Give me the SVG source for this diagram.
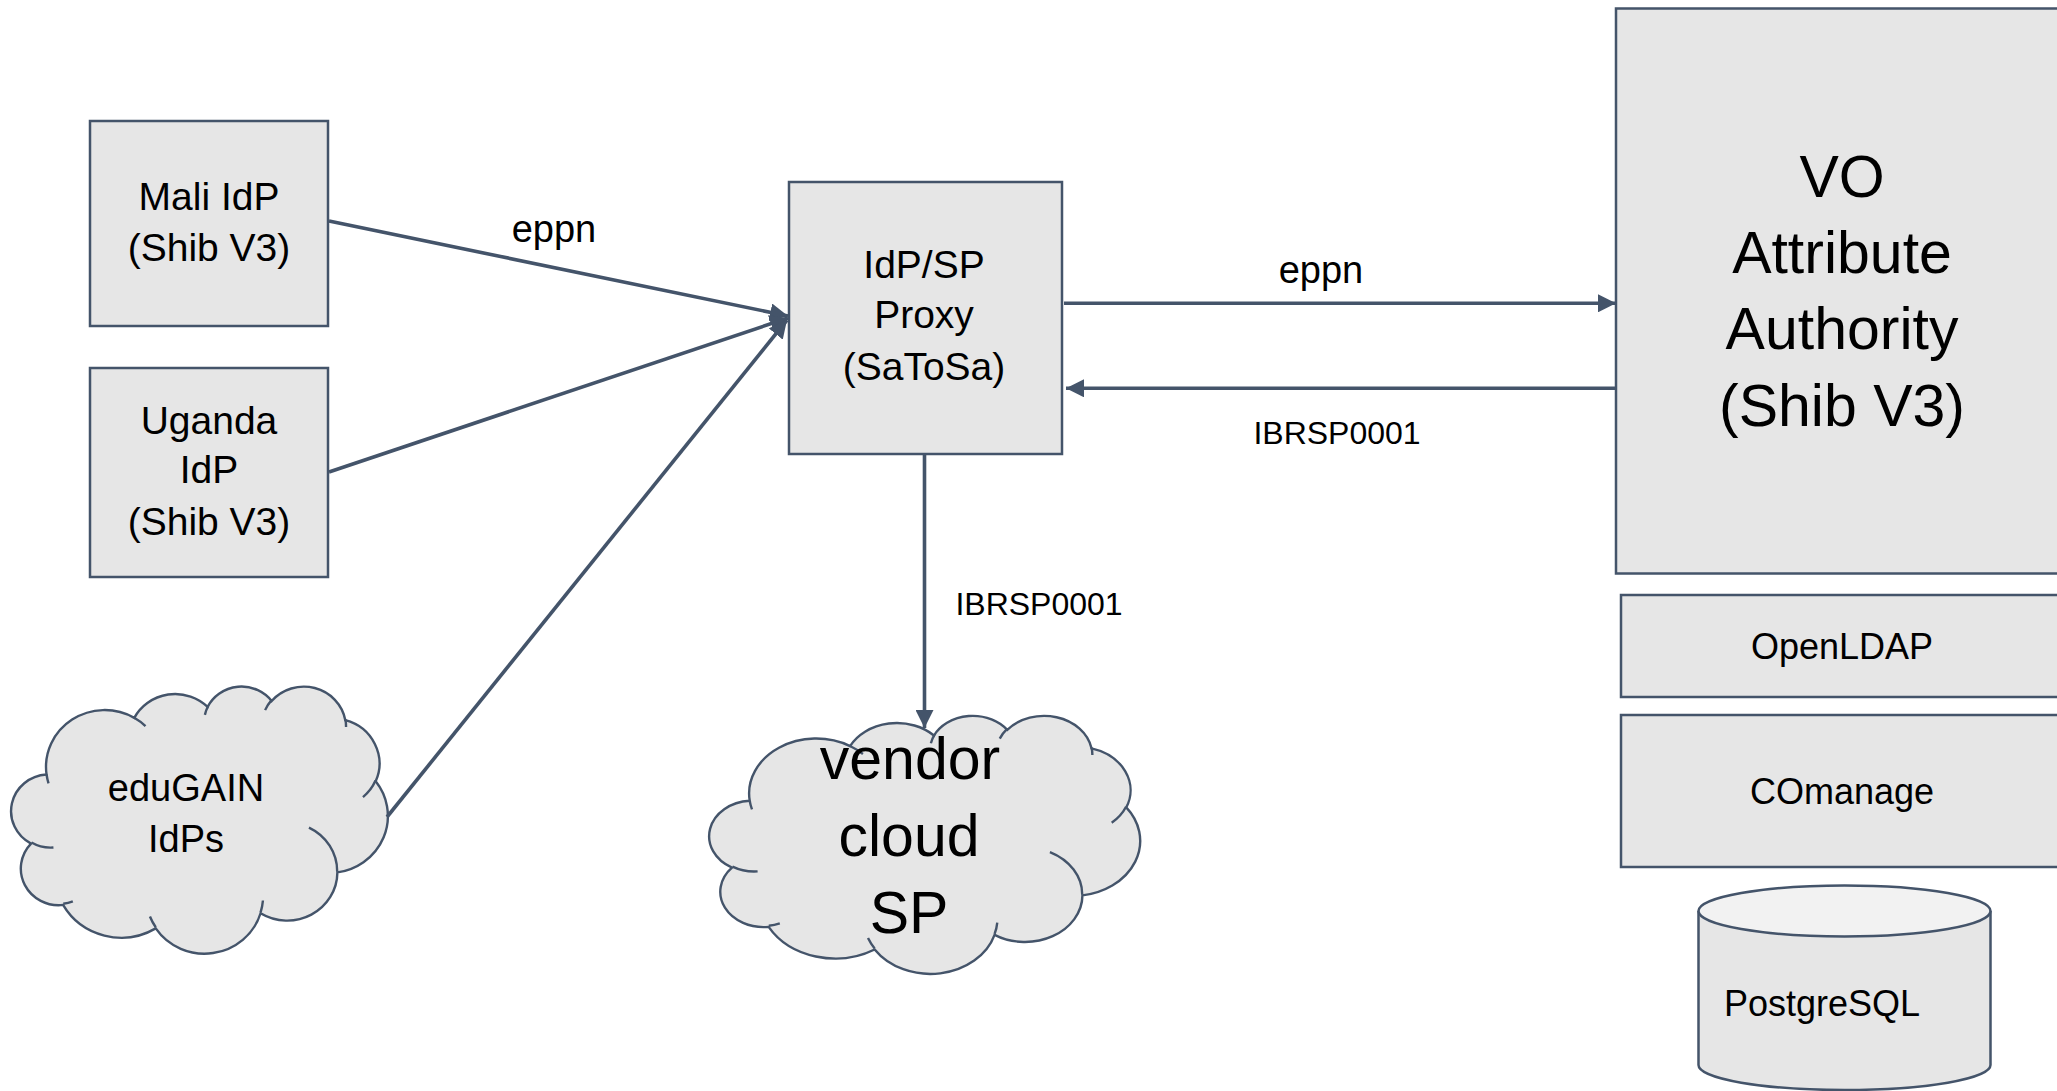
<svg xmlns="http://www.w3.org/2000/svg" width="2057" height="1091" viewBox="0 0 2057 1091">
<defs>
<style>
.box{fill:#e6e6e6;stroke:#44546a;stroke-width:2.5}
.cl{fill:#e6e6e6;stroke:#44546a;stroke-width:2.4;vector-effect:non-scaling-stroke}
.cli{fill:none;stroke:#44546a;stroke-width:2.4;vector-effect:non-scaling-stroke}
.t{font-family:"Liberation Sans",Arial,sans-serif;fill:#000;text-anchor:middle}
.conn{stroke:#44546a;stroke-width:3.6;fill:none}
</style>
<marker id="ah" markerUnits="userSpaceOnUse" markerWidth="18" markerHeight="18" viewBox="0 0 16 16" refX="16" refY="8" orient="auto">
<path d="M0,0 L16,8 L0,16 Z" fill="#44546a"/>
</marker>
<g id="cloudshape">
<path class="cl" d="M3900 14370 A6753 9190 0 0 1 14005 5202 A5333 7267 0 0 1 22455 3433 A4365 5945 0 0 1 29832 2482 A4857 6595 0 0 1 38317 5577 A5333 7273 0 0 1 41818 15460 A6775 9220 0 0 1 37404 30204 A5785 7867 0 0 1 28555 36814 A6752 9215 0 0 1 16480 39266 A7720 10543 0 0 1 5804 35470 A4360 5918 0 0 1 2112 25549 A4345 5945 0 0 1 3900 14370 Z"/>
<path class="cli" d="M4693 26177 A4345 5945 0 0 1 2160 25380 M6928 34899 A4360 5918 0 0 1 5820 35281 M16478 39090 A6752 9215 0 0 1 15810 37349 M28827 34751 A6752 9215 0 0 1 28560 36660 M34129 22954 A5785 7867 0 0 1 37380 30090 M41798 15354 A5333 7273 0 0 1 40350 18030 M38324 5426 A4857 6595 0 0 1 38401 6690 M29078 3952 A4857 6595 0 0 1 29820 2340 M22141 4720 A4365 5945 0 0 1 22500 3331 M14000 5192 A6753 9190 0 0 1 15299 6540 M4127 15789 A6753 9190 0 0 1 3900 14371"/>
</g>
</defs>
<rect width="2057" height="1091" fill="#fff"/>

<g id="mali">
<rect class="box" x="90" y="121" width="238" height="205"/>
<text class="t" x="209" y="210" font-size="39">Mali IdP</text>
<text class="t" x="209" y="261" font-size="39">(Shib V3)</text>
</g>

<g id="uganda">
<rect class="box" x="90" y="368" width="238" height="209"/>
<text class="t" x="209" y="434" font-size="39">Uganda</text>
<text class="t" x="209" y="483" font-size="39">IdP</text>
<text class="t" x="209" y="535" font-size="39">(Shib V3)</text>
</g>

<g id="edugain">
<use href="#cloudshape" transform="translate(12.7,685.7) scale(0.0086806,0.0061806)"/>
<text class="t" x="186" y="801" font-size="38">eduGAIN</text>
<text class="t" x="186" y="852" font-size="38">IdPs</text>
</g>

<g id="proxy">
<rect class="box" x="789" y="182" width="273" height="272"/>
<text class="t" x="924" y="278" font-size="39">IdP/SP</text>
<text class="t" x="924" y="328" font-size="39">Proxy</text>
<text class="t" x="924" y="380" font-size="39">(SaToSa)</text>
</g>

<g id="vendor">
<use href="#cloudshape" transform="translate(711,715) scale(0.0099306,0.0059722)"/>
<text class="t" x="910" y="779" font-size="59">vendor</text>
<text class="t" x="909" y="856" font-size="59">cloud</text>
<text class="t" x="909" y="933" font-size="59">SP</text>
</g>

<g id="vo">
<rect class="box" x="1616" y="8.5" width="460" height="565"/>
<text class="t" x="1842" y="197" font-size="59">VO</text>
<text class="t" x="1842" y="272.5" font-size="59">Attribute</text>
<text class="t" x="1842" y="349" font-size="59">Authority</text>
<text class="t" x="1842" y="425.5" font-size="59">(Shib V3)</text>
</g>

<g id="openldap">
<rect class="box" x="1621" y="595" width="455" height="102"/>
<text class="t" x="1842" y="659" font-size="36">OpenLDAP</text>
</g>

<g id="comanage">
<rect class="box" x="1621" y="715" width="455" height="152"/>
<text class="t" x="1842" y="804" font-size="36">COmanage</text>
</g>

<g id="postgresql">
<path d="M1698.5 911 V1065 A146 25 0 0 0 1990.5 1065 V911" fill="#e6e6e6" stroke="#44546a" stroke-width="2.5"/>
<ellipse cx="1844.5" cy="911" rx="146" ry="25.5" fill="#f2f2f2" stroke="#44546a" stroke-width="2.5"/>
<text class="t" x="1724" y="1016" font-size="36" style="text-anchor:start">PostgreSQL</text>
</g>

<g id="connectors">
<line class="conn" x1="329" y1="221" x2="788" y2="316" marker-end="url(#ah)"/>
<line class="conn" x1="329" y1="472" x2="788" y2="318" marker-end="url(#ah)"/>
<line class="conn" x1="387" y1="817" x2="787" y2="320" stroke-width="3.2" marker-end="url(#ah)"/>
<line class="conn" x1="1064" y1="303.3" x2="1616" y2="303.3" marker-end="url(#ah)"/>
<line class="conn" x1="1616" y1="388.3" x2="1066" y2="388.3" marker-end="url(#ah)"/>
<line class="conn" x1="924.5" y1="455" x2="924.5" y2="728" marker-end="url(#ah)"/>
<text class="t" x="554" y="242" font-size="38">eppn</text>
<text class="t" x="1321" y="283" font-size="38">eppn</text>
<text class="t" x="1337" y="444" font-size="32">IBRSP0001</text>
<text class="t" x="1039" y="615" font-size="32">IBRSP0001</text>
</g>
</svg>
